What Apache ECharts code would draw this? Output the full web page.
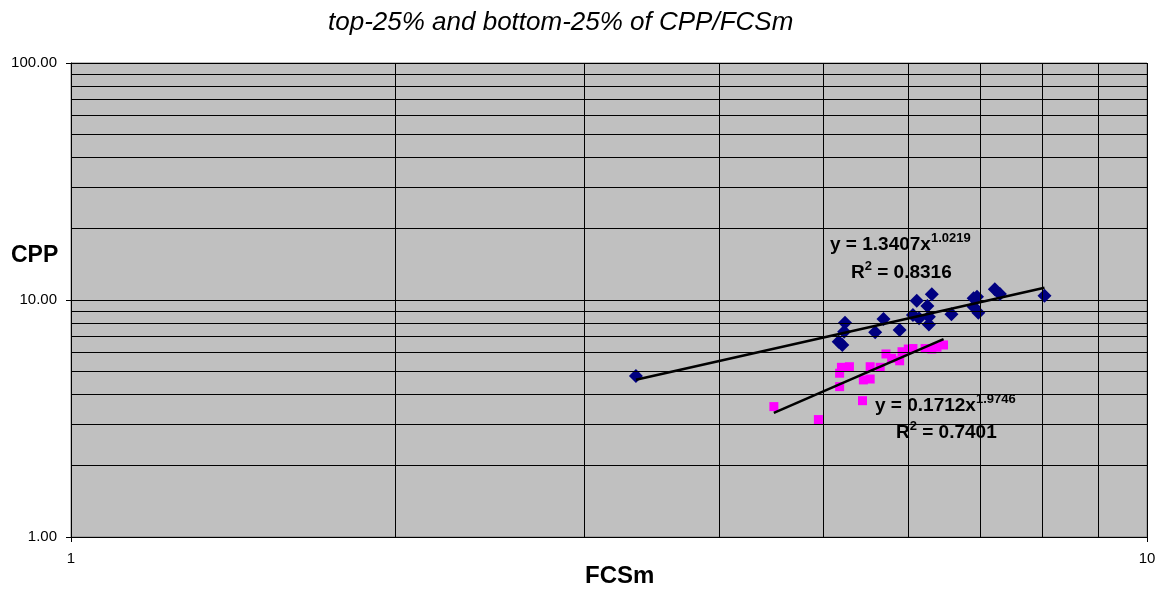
<!DOCTYPE html>
<html lang="en">
<head>
<meta charset="UTF-8">
<title>CPP vs FCSm</title>
<style>
    html, body { margin: 0; padding: 0; background: #fff; }
    #main { width: 1167px; height: 590px; }
</style>
<script src="https://cdn.jsdelivr.net/npm/echarts@6/dist/echarts.min.js"></script>
</head>
<body>
<div id="main"></div>
<script>
// top-25% of CPP/FCSm (navy diamonds)
var topFcsm = [3.35, 5.24, 5.23, 5.17, 5.21, 5.69, 5.59, 5.89, 6.11, 6.31, 6.25, 6.14, 6.27, 6.27, 6.06, 6.58, 6.90, 6.95, 6.90, 6.97, 7.22, 7.30, 8.03];
var topCpp  = [4.78, 8.02, 7.35, 6.67, 6.46, 8.32, 7.31, 7.47, 9.93, 10.57, 9.43, 8.37, 8.50, 7.89, 8.64, 8.70, 10.17, 10.33, 9.37, 8.84, 11.09, 10.60, 10.43];

// bottom-25% of CPP/FCSm (magenta squares)
var botFcsm = [4.50, 4.95, 5.44, 5.18, 5.18, 5.20, 5.29, 5.45, 5.53, 5.53, 5.65, 5.72, 5.79, 5.89, 5.92, 6.00, 6.06, 6.22, 6.31, 6.38, 6.47];
var botCpp  = [3.55, 3.13, 3.76, 4.31, 4.91, 5.20, 5.23, 4.60, 4.64, 5.23, 5.20, 5.92, 5.68, 5.54, 6.05, 6.21, 6.24, 6.24, 6.21, 6.32, 6.46];

// power trendlines printed on the chart: y = a * x^b
var topFit = { a: 1.3407, b: 1.0219, r2: 0.8316 };
var botFit = { a: 0.1712, b: 1.9746, r2: 0.7401 };

// minor gridlines of the log axes
var xMinor = [2, 3, 4, 5, 6, 7, 8, 9];
var yMinor = [2, 3, 4, 5, 6, 7, 8, 9, 20, 30, 40, 50, 60, 70, 80, 90];

function pairs(xs, ys) {
    return xs.map(function (x, i) { return [x, ys[i]]; });
}

// trendline only spans the x range of its own points
function fitLine(xs, fit) {
    var lo = Math.min.apply(null, xs);
    var hi = Math.max.apply(null, xs);
    return [[lo, fit.a * Math.pow(lo, fit.b)], [hi, fit.a * Math.pow(hi, fit.b)]];
}

var chart = echarts.init(document.getElementById('main'));
var font = '"Liberation Sans", Arial, sans-serif';

var gridLines = xMinor.map(function (v) { return { xAxis: v }; })
    .concat(yMinor.map(function (v) { return { yAxis: v }; }));

// main text + raised small text for exponents
var eqRich = {
    m: { fontFamily: font, fontSize: 19, fontWeight: 'bold', color: '#000', lineHeight: 26 },
    s: { fontFamily: font, fontSize: 13, fontWeight: 'bold', color: '#000', lineHeight: 13, verticalAlign: 'top' }
};

function eqText(fit) {
    return '{m|y = ' + fit.a.toFixed(4) + 'x}{s|' + fit.b.toFixed(4) + '}';
}
function r2Text(fit) {
    return '{m|R}{s|2}{m| = ' + fit.r2.toFixed(4) + '}';
}

var option = {
    animation: false,
    backgroundColor: '#fff',
    title: {
        text: 'top-25% and bottom-25% of CPP/FCSm',
        left: 323,
        top: 5,
        textStyle: { fontFamily: font, fontSize: 26, fontStyle: 'italic', fontWeight: 'normal', color: '#000' }
    },
    grid: {
        left: 71, right: 20, top: 63, bottom: 53,
        show: true,
        backgroundColor: '#c0c0c0',
        borderColor: '#808080',
        borderWidth: 1
    },
    xAxis: {
        type: 'log',
        logBase: 10,
        min: 1,
        max: 10,
        axisLine: { lineStyle: { color: '#000', width: 1 } },
        axisTick: { show: true, length: 5, lineStyle: { color: '#000' } },
        axisLabel: { margin: 14, fontFamily: font, fontSize: 15, color: '#000' },
        splitLine: { show: true, lineStyle: { color: '#000', width: 1 } }
    },
    yAxis: {
        type: 'log',
        logBase: 10,
        min: 1,
        max: 100,
        axisLine: { show: true, lineStyle: { color: '#000', width: 1 } },
        axisTick: { show: true, length: 5, lineStyle: { color: '#000' } },
        axisLabel: {
            margin: 14, fontFamily: font, fontSize: 15, color: '#000',
            formatter: function (v) { return v.toFixed(2); }
        },
        splitLine: { show: true, lineStyle: { color: '#000', width: 1 } }
    },
    graphic: [
        { type: 'text', left: 11, top: 244, style: { text: 'CPP', font: 'bold 23px ' + font, fill: '#000' } },
        { type: 'text', left: 585, top: 564, style: { text: 'FCSm', font: 'bold 24px ' + font, fill: '#000' } },
        { type: 'text', left: 830, top: 232, style: { text: eqText(topFit), rich: eqRich } },
        { type: 'text', left: 851, top: 260, style: { text: r2Text(topFit), rich: eqRich } },
        { type: 'text', left: 875, top: 393, style: { text: eqText(botFit), rich: eqRich } },
        { type: 'text', left: 896, top: 420, style: { text: r2Text(botFit), rich: eqRich } }
    ],
    series: [
        {
            name: 'grid',
            type: 'line',
            data: [],
            z: 1,
            silent: true,
            markLine: {
                silent: true,
                symbol: 'none',
                label: { show: false },
                lineStyle: { color: '#000', width: 1, type: 'solid' },
                data: gridLines
            }
        },
        {
            name: 'top-25%',
            type: 'scatter',
            symbol: 'diamond',
            symbolSize: 14,
            itemStyle: { color: '#000080', opacity: 1 },
            z: 3,
            data: pairs(topFcsm, topCpp)
        },
        {
            name: 'bottom-25%',
            type: 'scatter',
            symbol: 'rect',
            symbolSize: 9,
            itemStyle: { color: '#ff00ff', opacity: 1 },
            z: 3,
            data: pairs(botFcsm, botCpp)
        },
        {
            name: 'top fit',
            type: 'line',
            symbol: 'none',
            lineStyle: { color: '#000', width: 2.5 },
            z: 4,
            data: fitLine(topFcsm, topFit)
        },
        {
            name: 'bottom fit',
            type: 'line',
            symbol: 'none',
            lineStyle: { color: '#000', width: 2.5 },
            z: 4,
            data: fitLine(botFcsm, botFit)
        }
    ]
};

chart.setOption(option);
</script>
</body>
</html>
